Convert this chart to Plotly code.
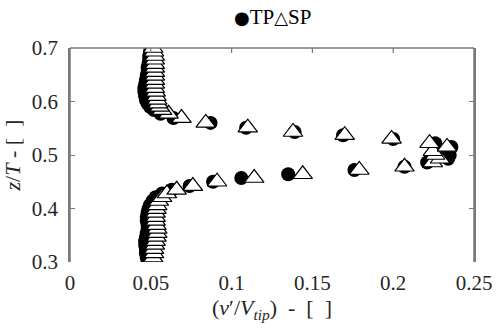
import plotly.graph_objects as go

z_values = [0.300, 0.308, 0.316, 0.324, 0.332, 0.339, 0.347, 0.354, 0.362, 0.369,
            0.377, 0.384, 0.392, 0.399, 0.406, 0.414, 0.421, 0.428, 0.435, 0.442,
            0.450, 0.457, 0.464, 0.472, 0.478, 0.486, 0.493, 0.500, 0.507, 0.515,
            0.522, 0.530, 0.537, 0.543, 0.551, 0.560, 0.569, 0.577, 0.584, 0.590,
            0.596, 0.603, 0.610, 0.618, 0.625, 0.633, 0.640, 0.648, 0.655, 0.663,
            0.670, 0.678, 0.685, 0.693, 0.700]

sp_values = [0.0515, 0.0515, 0.052, 0.052, 0.0525, 0.053, 0.0535, 0.054, 0.054, 0.0535,
             0.053, 0.053, 0.053, 0.0535, 0.054, 0.055, 0.057, 0.060, 0.066, 0.076,
             0.091, 0.114, 0.144, 0.179, 0.207, 0.2245, 0.229, 0.226, 0.2245, 0.2333,
             0.2225, 0.199, 0.170, 0.138, 0.110, 0.084, 0.069, 0.061, 0.057, 0.0555,
             0.0545, 0.054, 0.0535, 0.053, 0.0525, 0.0525, 0.0525, 0.0525, 0.0525, 0.0525,
             0.0525, 0.0525, 0.0525, 0.052, 0.0515]

tp_values = [0.048, 0.0475, 0.047, 0.047, 0.0465, 0.0465, 0.047, 0.0475, 0.048, 0.048,
             0.0475, 0.0475, 0.048, 0.0485, 0.0495, 0.051, 0.053, 0.057, 0.063, 0.074,
             0.0885, 0.106, 0.135, 0.176, 0.207, 0.221, 0.234, 0.235, 0.234, 0.236,
             0.226, 0.200, 0.169, 0.139, 0.109, 0.087, 0.064, 0.056, 0.052, 0.0495,
             0.048, 0.047, 0.0465, 0.046, 0.046, 0.0465, 0.047, 0.0475, 0.048, 0.048,
             0.0485, 0.049, 0.049, 0.0495, 0.050]

x_ticks = [0, 0.05, 0.1, 0.15, 0.2, 0.25]
x_tick_labels = ["0", "0.05", "0.1", "0.15", "0.2", "0.25"]
y_ticks = [0.3, 0.4, 0.5, 0.6, 0.7]
y_tick_labels = ["0.3", "0.4", "0.5", "0.6", "0.7"]

FONT = "Liberation Serif, Times New Roman, serif"
AX = "#7a7a7a"
TXT = "#262626"
TICKFONT = dict(family=FONT, size=21, color=TXT)

fig = go.Figure()
fig.add_trace(go.Scatter(
    x=tp_values, y=z_values, mode="markers", name="TP",
    marker=dict(symbol="circle", size=14, color="black", line=dict(width=0)),
))
fig.add_trace(go.Scatter(
    x=sp_values, y=z_values, mode="markers", name="SP",
    marker=dict(symbol="triangle-up", size=17, color="white",
                line=dict(width=1.2, color="black")),
))

# frame: left, top, right (no bottom line, as in the reference)
shapes = [
    dict(type="line", xref="paper", yref="paper", x0=0, x1=0, y0=0, y1=1,
         line=dict(color=AX, width=1.5), layer="above"),
    dict(type="line", xref="paper", yref="paper", x0=0, x1=1, y0=1, y1=1,
         line=dict(color=AX, width=1.5), layer="above"),
    dict(type="line", xref="paper", yref="paper", x0=1, x1=1, y0=0, y1=1,
         line=dict(color=AX, width=1.5), layer="above"),
]
# small inward ticks on the top edge
for t in x_ticks[1:-1]:
    shapes.append(dict(type="line", xref="x", yref="paper", x0=t, x1=t,
                       y0=1, y1=1 - 5 / 214, line=dict(color=AX, width=1.2), layer="above"))

fig.update_layout(
    width=497, height=329,
    margin=dict(l=70, r=23, t=48, b=67),
    plot_bgcolor="white", paper_bgcolor="white",
    showlegend=False,
    font=dict(family=FONT, size=21, color=TXT),
    shapes=shapes,
    xaxis=dict(
        range=[0, 0.25], tickvals=x_ticks, ticktext=x_tick_labels, tickfont=TICKFONT,
        showgrid=False, zeroline=False, showline=False, ticks="", automargin=False,
        ticklabelstandoff=6,
        title=dict(text="(<i>v</i>\u2032/<i>V</i><sub><i>tip</i></sub>)\u00a0\u00a0-\u00a0\u00a0[\u00a0\u00a0]",
                   font=dict(family=FONT, size=22, color=TXT), standoff=2),
    ),
    yaxis=dict(
        range=[0.3, 0.7], tickvals=y_ticks, ticktext=y_tick_labels, tickfont=TICKFONT,
        showgrid=False, zeroline=False, showline=True, linecolor=AX, linewidth=1.5,
        mirror="ticks", ticks="inside", ticklen=5, tickwidth=1.2, tickcolor=AX,
        automargin=False, ticklabelstandoff=6,
        title=dict(text="<i>z</i>/<i>T</i>\u00a0-\u00a0[\u00a0\u00a0]",
                   font=dict(family=FONT, size=22, color=TXT), standoff=6),
    ),
    annotations=[dict(
        xref="paper", yref="paper", x=0.5, y=1.0, yshift=31,
        xanchor="center", yanchor="middle", showarrow=False,
        text="<span style='font-family:DejaVu Sans;font-size:18px'>\u25cf</span>TP"
             "<span style='font-family:DejaVu Sans;font-size:18px'>\u25b3</span>SP",
        font=dict(family=FONT, size=21, color="black"),
    )],
)

fig.write_html("out.html", config={"displayModeBar": False},
               post_script="document.body.style.margin='0';")
